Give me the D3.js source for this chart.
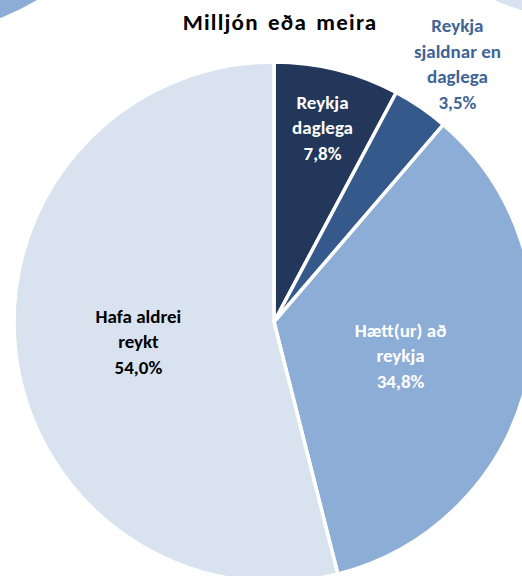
<!DOCTYPE html>
<html>
<head>
<meta charset="utf-8">
<script src="https://cdn.jsdelivr.net/npm/d3@7"></script>
<style>
  html, body { margin: 0; padding: 0; background: #fff; }
  svg { display: block; }
  text { font-family: Carlito, Lato, "Open Sans", sans-serif; font-weight: bold; }
</style>
</head>
<body>
<script>
// ---- data ----
const title = "Milljón eða meira";
const categories = ["Reykja daglega", "Reykja sjaldnar en daglega", "Hætt(ur) að reykja", "Hafa aldrei reykt"];
const values = [7.8, 3.5, 34.8, 54.0];
const labelLines = [
  ["Reykja", "daglega"],
  ["Reykja", "sjaldnar en", "daglega"],
  ["Hætt(ur) að", "reykja"],
  ["Hafa aldrei", "reykt"]
];
const valueLabels = ["7,8%", "3,5%", "34,8%", "54,0%"];

// ---- styles / layout ----
const colors = ["#22375A", "#35598A", "#8CADD5", "#D8E3EF"];
const textColors = ["#ffffff", "#3F6496", "#ffffff", "#000000"];
const labelRadius = [0.77, 1.23, 0.5, 0.51];
const labelNudge = [[0, 0], [3, 6], [0, 4], [-4, 3]];

const W = 522, H = 576;
const cx = 274, cy = 322, R = 260;

const svg = d3.select("body").append("svg").attr("width", W).attr("height", H);

// neighbouring charts' pies, partly visible at the corners
svg.append("circle").attr("cx", -95).attr("cy", -224).attr("r", 260).attr("fill", "#8CADD5");
svg.append("circle").attr("cx", 599).attr("cy", -238).attr("r", 260).attr("fill", "#D8E3EF");

const pie = d3.pie().sort(null).value(d => d);
const arcs = pie(values);
const arc = d3.arc().innerRadius(0).outerRadius(R);

const g = svg.append("g").attr("transform", `translate(${cx},${cy})`);
g.selectAll("path.slice").data(arcs).join("path")
  .attr("class", "slice")
  .attr("d", arc)
  .attr("fill", (d, i) => colors[i])
  .attr("stroke", "#fff")
  .attr("stroke-width", 3.5)
  .attr("stroke-linejoin", "miter");

const fs = 19, lh = 25.5;
arcs.forEach((a, i) => {
  const mid = (a.startAngle + a.endAngle) / 2;
  const r = R * labelRadius[i];
  const x = Math.sin(mid) * r + labelNudge[i][0], y = -Math.cos(mid) * r + labelNudge[i][1];
  const lines = labelLines[i].concat([valueLabels[i]]);
  const t = g.append("text")
    .attr("text-anchor", "middle")
    .attr("font-size", fs)
    .attr("fill", textColors[i]);
  lines.forEach((ln, k) => {
    t.append("tspan")
      .attr("x", x)
      .attr("y", y + (k - (lines.length - 1) / 2) * lh)
      .attr("dy", "0.35em")
      .text(ln);
  });
});

svg.append("text")
  .attr("x", 280).attr("y", 22).attr("dy", "0.35em")
  .attr("text-anchor", "middle")
  .attr("font-size", 23)
  .attr("letter-spacing", 1.2)
  .attr("word-spacing", 3)
  .attr("fill", "#000")
  .text(title);
</script>
</body>
</html>
